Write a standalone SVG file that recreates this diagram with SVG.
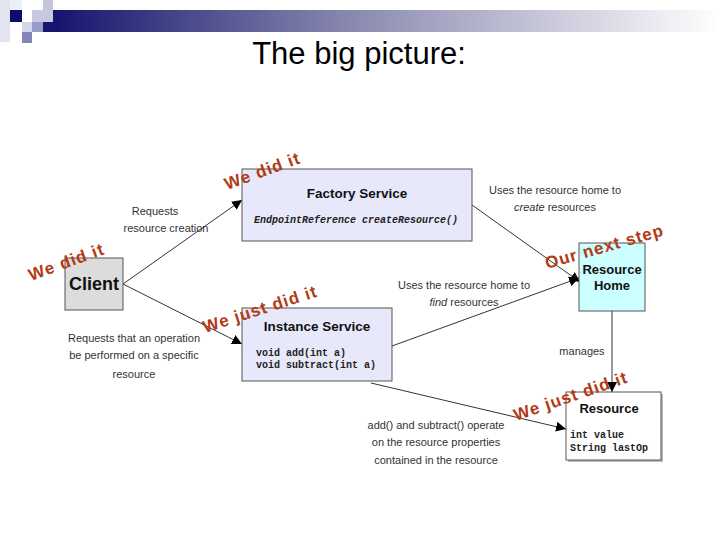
<svg xmlns="http://www.w3.org/2000/svg" width="720" height="540" viewBox="0 0 720 540">
<defs>
<linearGradient id="bar" x1="0" y1="0" x2="1" y2="0">
<stop offset="0" stop-color="#14146e"/>
<stop offset="0.45" stop-color="#8a8ab0"/>
<stop offset="1" stop-color="#ffffff"/>
</linearGradient>
<marker id="ah" viewBox="0 0 10 10" refX="10" refY="5" markerWidth="10" markerHeight="10" markerUnits="userSpaceOnUse" orient="auto">
<path d="M0,0 L10,5 L0,10 z" fill="#000"/>
</marker>
<style>
.box{stroke:#555;stroke-width:1}
.title{font-family:"Liberation Sans",Arial,sans-serif;font-size:31px;fill:#000}
.name{font-family:"Liberation Sans",Arial,sans-serif;font-weight:bold;fill:#111;text-anchor:middle}
.code{font-family:"Liberation Mono","Courier New",monospace;font-size:10px;font-weight:bold;fill:#222}
.lbl{font-family:"Liberation Sans",Arial,sans-serif;font-size:11px;fill:#333;text-anchor:middle}
.red{font-family:"Liberation Sans",Arial,sans-serif;font-size:17px;font-weight:bold;fill:#b23a14;letter-spacing:1px}
.conn line{stroke:#333;stroke-width:1;marker-end:url(#ah)}
</style>
</defs>
<rect width="720" height="540" fill="#fff"/>
<g id="decoration">
<rect x="0" y="0" width="10" height="42" fill="#e4e4f0"/>
<rect x="10" y="0" width="12" height="10" fill="#eeeef6"/>
<rect x="53" y="10" width="667" height="22" fill="url(#bar)"/>
<rect x="43" y="22" width="12" height="10" fill="#16166e"/>
<rect x="10" y="10" width="12" height="12" fill="#0c0c6c"/>
<rect x="32" y="10" width="21" height="12" fill="#c8c8e0"/>
<rect x="43" y="0" width="10" height="10" fill="#c4c4dc"/>
<rect x="22" y="22" width="10" height="10" fill="#d4d4ea"/>
<rect x="32" y="22" width="11" height="10" fill="#9a9ac8"/>
<rect x="22" y="32" width="10" height="11" fill="#8484b8"/>
</g>
<text class="title" x="359" y="64" text-anchor="middle">The big picture:</text>

<g class="conn" id="connectors">
<line x1="123" y1="284" x2="242" y2="200"/>
<line x1="123" y1="284" x2="242" y2="344"/>
<line x1="472" y1="205" x2="580" y2="282"/>
<line x1="392" y1="346" x2="579" y2="278"/>
<line x1="612" y1="311" x2="612" y2="392"/>
<line x1="371" y1="383" x2="566" y2="429"/>
</g>

<g id="labels">
<text class="lbl" x="155" y="215">Requests</text>
<text class="lbl" x="166" y="232">resource creation</text>
<text class="lbl" x="134" y="342">Requests that an operation</text>
<text class="lbl" x="134" y="359">be performed on a specific</text>
<text class="lbl" x="134" y="378">resource</text>
<text class="lbl" x="555" y="194">Uses the resource home to</text>
<text class="lbl" x="555" y="211"><tspan font-style="italic">create</tspan> resources</text>
<text class="lbl" x="464" y="289">Uses the resource home to</text>
<text class="lbl" x="464" y="306"><tspan font-style="italic">find</tspan> resources</text>
<text class="lbl" x="582" y="355">manages</text>
<text class="lbl" x="436" y="429">add() and subtract() operate</text>
<text class="lbl" x="436" y="446">on the resource properties</text>
<text class="lbl" x="436" y="464">contained in the resource</text>
</g>

<g id="factory">
<rect class="box" x="242" y="169" width="230" height="72" fill="#e8e8fb"/>
<text class="name" x="357" y="198" font-size="13.5">Factory Service</text>
<text class="code" x="356" y="223" text-anchor="middle" font-style="italic">EndpointReference createResource()</text>
</g>

<g id="client">
<rect class="box" x="65" y="258" width="58" height="52" fill="#dcdcdc"/>
<text class="name" x="94" y="290" font-size="18">Client</text>
</g>

<g id="instance">
<rect class="box" x="242" y="308" width="150" height="73" fill="#e8e8fb"/>
<text class="name" x="317" y="331" font-size="13.5">Instance Service</text>
<text class="code" x="256" y="356">void add(int a)</text>
<text class="code" x="256" y="368">void subtract(int a)</text>
</g>

<g id="resourcehome">
<rect class="box" x="579" y="243" width="66" height="68" fill="#ccffff"/>
<text class="name" x="612" y="274" font-size="13">Resource</text>
<text class="name" x="612" y="290" font-size="13">Home</text>
</g>

<g id="resource">
<rect x="568" y="394" width="95" height="68" fill="#bbb"/>
<rect class="box" x="566" y="392" width="95" height="68" fill="#fff"/>
<text class="name" x="609" y="413" font-size="13">Resource</text>
<text class="code" x="570" y="438">int value</text>
<text class="code" x="570" y="451">String lastOp</text>
</g>

<g id="annotations">
<text class="red" transform="translate(227,190) rotate(-20)">We did it</text>
<text class="red" transform="translate(31,281) rotate(-20)">We did it</text>
<text class="red" transform="translate(547,269) rotate(-16)" letter-spacing="0.3">Our next step</text>
<text class="red" transform="translate(205,333) rotate(-18)" letter-spacing="0.5">We just did it</text>
<text class="red" transform="translate(516,421) rotate(-19)" letter-spacing="0.5">We just did it</text>
</g>
</svg>
